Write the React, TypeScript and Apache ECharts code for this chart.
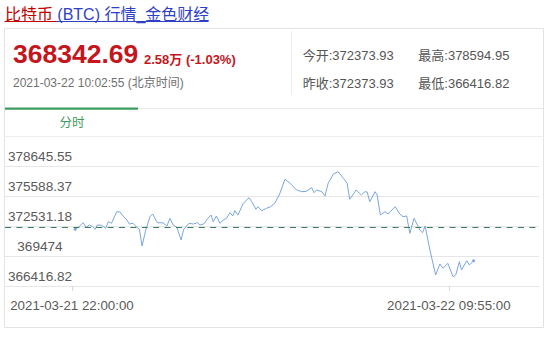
import React, { useEffect, useRef } from 'react';
import * as echarts from 'echarts';

const FONT = '"Liberation Sans", "Noto Sans CJK SC", sans-serif';

// ---- data ----
const times = [
  '2021-03-21 22:06', '2021-03-21 22:12', '2021-03-21 22:21', '2021-03-21 22:27', '2021-03-21 22:33',
  '2021-03-21 22:39', '2021-03-21 22:44', '2021-03-21 22:48', '2021-03-21 22:56', '2021-03-21 23:04',
  '2021-03-21 23:09', '2021-03-21 23:15', '2021-03-21 23:25', '2021-03-21 23:31', '2021-03-21 23:37',
  '2021-03-21 23:44', '2021-03-21 23:49', '2021-03-21 23:56', '2021-03-22 00:03', '2021-03-22 00:08',
  '2021-03-22 00:13', '2021-03-22 00:20', '2021-03-22 00:28', '2021-03-22 00:33', '2021-03-22 00:42',
  '2021-03-22 00:53', '2021-03-22 01:00', '2021-03-22 01:06', '2021-03-22 01:12', '2021-03-22 01:19',
  '2021-03-22 01:27', '2021-03-22 01:32', '2021-03-22 01:42', '2021-03-22 01:50', '2021-03-22 01:58',
  '2021-03-22 02:03', '2021-03-22 02:10', '2021-03-22 02:18', '2021-03-22 02:24', '2021-03-22 02:28',
  '2021-03-22 02:34', '2021-03-22 02:41', '2021-03-22 02:47', '2021-03-22 02:53', '2021-03-22 03:00',
  '2021-03-22 03:05', '2021-03-22 03:09', '2021-03-22 03:15', '2021-03-22 03:25', '2021-03-22 03:36',
  '2021-03-22 03:41', '2021-03-22 03:49', '2021-03-22 03:53', '2021-03-22 04:00', '2021-03-22 04:09',
  '2021-03-22 04:17', '2021-03-22 04:25', '2021-03-22 04:34', '2021-03-22 04:44', '2021-03-22 04:54',
  '2021-03-22 05:06', '2021-03-22 05:16', '2021-03-22 05:24', '2021-03-22 05:35', '2021-03-22 05:39',
  '2021-03-22 05:44', '2021-03-22 05:54', '2021-03-22 06:00', '2021-03-22 06:06', '2021-03-22 06:16',
  '2021-03-22 06:25', '2021-03-22 06:35', '2021-03-22 06:42', '2021-03-22 06:47', '2021-03-22 06:59',
  '2021-03-22 07:09', '2021-03-22 07:16', '2021-03-22 07:20', '2021-03-22 07:25', '2021-03-22 07:35',
  '2021-03-22 07:39', '2021-03-22 07:45', '2021-03-22 07:54', '2021-03-22 08:00', '2021-03-22 08:13',
  '2021-03-22 08:22', '2021-03-22 08:28', '2021-03-22 08:35', '2021-03-22 08:41', '2021-03-22 08:49',
  '2021-03-22 09:00', '2021-03-22 09:05', '2021-03-22 09:10', '2021-03-22 09:19', '2021-03-22 09:30',
  '2021-03-22 09:38', '2021-03-22 09:44', '2021-03-22 09:53', '2021-03-22 10:03', '2021-03-22 10:08',
  '2021-03-22 10:15', '2021-03-22 10:19', '2021-03-22 10:29', '2021-03-22 10:34', '2021-03-22 10:42',
];

const prices = [
  372195, 372399, 372868, 372399, 372633,
  372460, 372195, 372633, 372610, 372297,
  372969, 372806, 373988, 373960, 373550,
  373143, 372735, 372806, 372399, 372195,
  370493, 372124, 373479, 373754, 372868,
  372850, 372531, 373316, 372633, 372399,
  371105, 372195, 372806, 372735, 372868,
  372633, 372735, 373316, 373652, 372969,
  373550, 372806, 373143, 373316, 373887,
  373550, 374090, 373652, 374844, 375415,
  375008, 374233, 374498, 374090, 374335,
  374498, 374875, 375792, 377290, 376883,
  376200, 376027, 376060, 376434, 375925,
  376200, 376027, 375588, 376883, 377830,
  378065, 377392, 376883, 375252, 376200,
  375690, 376027, 376000, 375008, 376027,
  375690, 373652, 373988, 373754, 374498,
  373754, 373479, 373550, 371787, 373316,
  372124, 371848, 372531, 370085, 367538,
  368659, 368221, 368730, 367365, 367538,
  368893, 368047, 368995, 368557, 368995,
];

const yTickValues = [366416.82, 369474, 372531.18, 375588.37, 378645.55];
const xLabelTimes = ['2021-03-21 22:00', '2021-03-22 09:55'];
const axisMinTime = '2021-03-21 19:53';
const axisMaxTime = '2021-03-22 12:46';
const prevClose = 372373.93;

const titleMain = '比特币';
const titleRest = '(BTC) 行情_金色财经';
const lastPrice = '368342.69';
const changeText = '2.58万 (-1.03%)';
const quoteTime = '2021-03-22 10:02:55 (北京时间)';
const statsRow1 = ['今开:372373.93', '最高:378594.95'];
const statsRow2 = ['昨收:372373.93', '最低:366416.82'];
const tabLabel = '分时';

function ts(s: string): number {
  return new Date(s.replace(' ', 'T') + ':00').getTime();
}
function pad(n: number): string {
  return n < 10 ? '0' + n : String(n);
}
function fmtTime(v: number): string {
  const d = new Date(v);
  return `${d.getFullYear()}-${pad(d.getMonth() + 1)}-${pad(d.getDate())} ${pad(d.getHours())}:${pad(d.getMinutes())}:${pad(d.getSeconds())}`;
}

export default function App() {
  const ref = useRef<HTMLDivElement>(null);
  useEffect(() => {
    if (!ref.current) return;
    const chart = echarts.init(ref.current, undefined, { renderer: 'svg' });
    const data = times.map((t, i) => [ts(t), prices[i]]);
    const n = data.length;
    const red = '#c4161c';
    const blue = '#2f3fc6';
    const green = '#3d9b5f';
    const txt = (x: number, y: number, text: string, extra: any) => ({
      type: 'text',
      x,
      y,
      silent: true,
      style: {
        text,
        fontFamily: FONT,
        textVerticalAlign: 'middle',
        textAlign: 'left',
        ...extra,
      },
    });
    const xTicks = xLabelTimes.map(ts);
    const option: any = {
      animation: false,
      backgroundColor: '#fff',
      grid: { left: 5, right: 12, top: 166, bottom: 53 },
      xAxis: {
        type: 'value',
        min: ts(axisMinTime),
        max: ts(axisMaxTime),
        axisLine: { show: true, lineStyle: { color: '#e6e6e6' } },
        axisTick: {
          show: true,
          length: 5,
          customValues: xTicks,
          lineStyle: { color: '#d8d8d8' },
        },
        splitLine: { show: false },
        axisLabel: {
          customValues: xTicks,
          formatter: (v: number) => fmtTime(v),
          color: '#5a5a5a',
          fontSize: 13.3,
          fontFamily: FONT,
          margin: 13,
          hideOverlap: false,
        },
      },
      yAxis: {
        type: 'value',
        min: yTickValues[0],
        max: yTickValues[yTickValues.length - 1],
        axisLine: { show: false },
        axisTick: { show: false, customValues: yTickValues },
        splitLine: { show: true, lineStyle: { color: '#e6e6e6', width: 1 } },
        axisLabel: {
          customValues: yTickValues,
          inside: true,
          align: 'center',
          verticalAlign: 'bottom',
          lineHeight: 18.6,
          margin: 35,
          formatter: (v: number) => String(v),
          color: '#5a5a5a',
          fontSize: 13.6,
          fontFamily: FONT,
        },
      },
      series: [
        {
          type: 'line',
          data,
          showSymbol: true,
          showAllSymbol: true,
          symbol: 'circle',
          symbolSize: (_v: any, p: any) => (p.dataIndex === 0 || p.dataIndex === n - 1 ? 3 : 0),
          lineStyle: { color: '#7ba6de', width: 1 },
          itemStyle: { color: '#7ba6de' },
          markLine: {
            silent: true,
            symbol: ['none', 'none'],
            label: { show: false },
            lineStyle: { type: [6, 5.4], color: '#3a7d5c', width: 1 },
            data: [{ yAxis: prevClose }],
          },
        },
      ],
      graphic: [
        {
          type: 'rect',
          silent: true,
          shape: { x: 4.5, y: 28.5, width: 539, height: 299 },
          style: { fill: 'none', stroke: '#e3e3e3', lineWidth: 1 },
        },
        {
          type: 'line',
          silent: true,
          shape: { x1: 291.5, y1: 31, x2: 291.5, y2: 95 },
          style: { stroke: '#eeeeee', lineWidth: 1 },
        },
        {
          type: 'line',
          silent: true,
          shape: { x1: 5, y1: 108.5, x2: 543, y2: 108.5 },
          style: { stroke: '#e8e8e8', lineWidth: 1 },
        },
        {
          type: 'rect',
          silent: true,
          shape: { x: 5, y: 107.5, width: 133, height: 2.2 },
          style: { fill: green },
        },
        {
          type: 'line',
          silent: true,
          shape: { x1: 5, y1: 136.5, x2: 543, y2: 136.5 },
          style: { stroke: '#eeeeee', lineWidth: 1 },
        },
        txt(5, 14.5, titleMain, { fill: '#c00000', fontSize: 16 }),
        txt(57.3, 14.5, titleRest, { fill: blue, fontSize: 16 }),
        {
          type: 'line',
          silent: true,
          shape: { x1: 4.5, y1: 21.5, x2: 56, y2: 21.5 },
          style: { stroke: '#c00000', lineWidth: 1 },
        },
        {
          type: 'line',
          silent: true,
          shape: { x1: 56, y1: 21.5, x2: 208.5, y2: 21.5 },
          style: { stroke: blue, lineWidth: 1 },
        },
        txt(13, 53.7, lastPrice, { fill: red, fontSize: 26.5, fontWeight: 'bold' }),
        txt(144, 59.7, changeText, { fill: red, fontSize: 13, fontWeight: 'bold' }),
        txt(13, 83, quoteTime, { fill: '#707070', fontSize: 12 }),
        txt(302.7, 55, statsRow1[0], { fill: '#555', fontSize: 13 }),
        txt(418.3, 55, statsRow1[1], { fill: '#555', fontSize: 13 }),
        txt(302.7, 83.3, statsRow2[0], { fill: '#555', fontSize: 13 }),
        txt(418.3, 83.3, statsRow2[1], { fill: '#555', fontSize: 13 }),
        txt(72, 123, tabLabel, { fill: green, fontSize: 12.5, textAlign: 'center' }),
      ],
    };
    chart.setOption(option);
    return () => chart.dispose();
  }, []);
  return (
    <div
      ref={ref}
      style={{ position: 'absolute', left: 0, top: 0, width: 551, height: 339 }}
    />
  );
}
